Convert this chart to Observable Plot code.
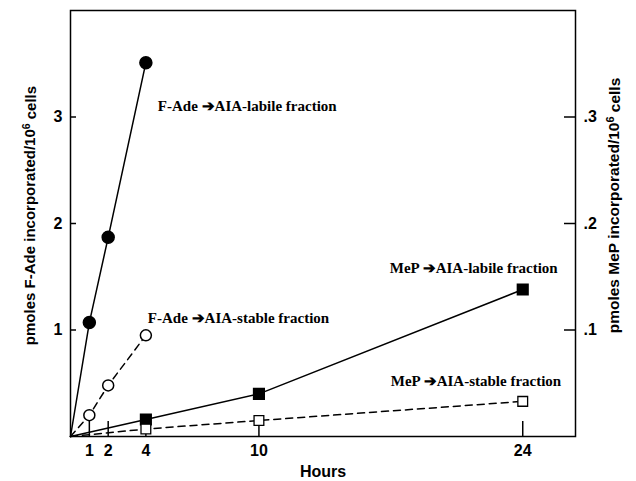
<!DOCTYPE html>
<html><head><meta charset="utf-8">
<script src="https://cdn.jsdelivr.net/npm/d3@7"></script>
<script src="https://cdn.jsdelivr.net/npm/@observablehq/plot@0.6"></script>
<style>body{margin:0;background:#fff}</style>
</head><body><div id="chart"></div>
<script>
// ---- data ----
const fadeHours = [0, 1, 2, 4];
const fadeLabile = [0, 1.07, 1.87, 3.51];
const fadeStable = [0, 0.20, 0.48, 0.95];
const mepHours = [0, 4, 10, 24];
const mepLabile = [0, 0.016, 0.040, 0.138];
const mepStable = [0, 0.007, 0.015, 0.033];
const xTicks = [1, 2, 4, 10, 24];
const leftTicks = [1, 2, 3];
const rightTicks = [0.1, 0.2, 0.3];
const rightTickLabels = [".1", ".2", ".3"];
const seriesLabels = ["F-Ade \u2794AIA-labile fraction", "F-Ade \u2794AIA-stable fraction",
  "MeP \u2794AIA-labile fraction", "MeP \u2794AIA-stable fraction"];
const xTitle = "Hours";
const yTitleLeft = "pmoles F-Ade incorporated/10\u2076 cells";
const yTitleRight = "pmoles MeP incorporated/10\u2076 cells";
const ratio = 10; // left axis units per right axis unit

const rows = (hs, vs, k) => hs.map((h, i) => ({h, v: vs[i] * k}));
const fl = rows(fadeHours, fadeLabile, 1);
const fs = rows(fadeHours, fadeStable, 1);
const ml = rows(mepHours, mepLabile, ratio);
const ms = rows(mepHours, mepStable, ratio);
const pts = a => a.filter(d => d.h > 0);
const last = a => [a[a.length - 1]];

const serif = "'Liberation Serif', 'Times New Roman', serif";
const annot = (a, text, dx, dy) => Plot.text(last(a), {x: "h", y: "v", text: () => text,
  textAnchor: "start", dx, dy, fontFamily: serif, fontWeight: "bold", fontSize: 15, fill: "black"});

const chart = Plot.plot({
  width: 636, height: 481,
  marginLeft: 70, marginRight: 61, marginTop: 10, marginBottom: 45,
  style: {fontFamily: "'Liberation Sans', Arial, sans-serif", fontWeight: "bold", fontSize: "16px", background: "white", color: "black"},
  x: {domain: [0, 26.8], label: null},
  y: {domain: [0, 4], label: null},
  marks: [
    Plot.frame({strokeWidth: 1.5}),
    Plot.axisX(xTicks, {tickSize: -15, text: null, strokeWidth: 1.5, label: null}),
    Plot.axisX(xTicks, {tickSize: 0, tickPadding: 8, label: null, fontSize: 16, tickFormat: d => String(d)}),
    Plot.axisY(leftTicks, {anchor: "left", tickSize: -6, text: null, strokeWidth: 1.5, label: null}),
    Plot.axisY(leftTicks, {anchor: "left", tickSize: 0, tickPadding: 8, label: null, fontSize: 16, tickFormat: d => String(d)}),
    Plot.axisY(rightTicks.map(v => v * ratio), {anchor: "right", tickSize: -12, text: null, strokeWidth: 1.5, label: null}),
    Plot.axisY(rightTicks.map(v => v * ratio), {anchor: "right", tickSize: 0, tickPadding: 8, label: null, fontSize: 16,
      tickFormat: d => rightTickLabels[rightTicks.findIndex(v => Math.abs(v * ratio - d) < 1e-9)]}),
    Plot.text([xTitle], {frameAnchor: "bottom", dy: 35, fontSize: 16, lineAnchor: "middle", textAnchor: "middle"}),
    Plot.text([yTitleLeft], {frameAnchor: "left", rotate: -90, dx: -40, dy: -8, fontSize: 15, lineAnchor: "middle", textAnchor: "middle"}),
    Plot.text([yTitleRight], {frameAnchor: "right", rotate: -90, dx: 39, dy: -18, fontSize: 15.5, lineAnchor: "middle", textAnchor: "middle"}),
    Plot.line(fl, {x: "h", y: "v", stroke: "black", strokeWidth: 1.5}),
    Plot.line(fs, {x: "h", y: "v", stroke: "black", strokeWidth: 1.5, strokeDasharray: "7,5"}),
    Plot.line(ml, {x: "h", y: "v", stroke: "black", strokeWidth: 1.5}),
    Plot.line(ms, {x: "h", y: "v", stroke: "black", strokeWidth: 1.5, strokeDasharray: "7,5"}),
    Plot.dot(pts(fl), {x: "h", y: "v", r: 6, fill: "black", stroke: "black"}),
    Plot.dot(pts(fs), {x: "h", y: "v", r: 5.5, fill: "white", stroke: "black", strokeWidth: 1.5}),
    Plot.dot(pts(ml), {x: "h", y: "v", r: 6, symbol: "square", fill: "black", stroke: "black"}),
    Plot.dot(pts(ms), {x: "h", y: "v", r: 5.5, symbol: "square", fill: "white", stroke: "black", strokeWidth: 1.3}),
    annot(fl, seriesLabels[0], 12, 44),
    annot(fs, seriesLabels[1], 2, -17),
    annot(ml, seriesLabels[2], -133, -21),
    annot(ms, seriesLabels[3], -132, -20)
  ]
});

// superscript the exponent in the axis titles
d3.select(chart).selectAll("text").each(function() {
  const t = this.textContent;
  if (t.includes("\u2076")) {
    const [a, b] = t.split("\u2076");
    const sel = d3.select(this);
    sel.text(null);
    sel.append("tspan").text(a);
    sel.append("tspan").attr("dy", "-0.55em").attr("font-size", "0.7em").text("6");
    sel.append("tspan").attr("dy", "0.4em").text("\u00a0" + b.trimStart());
  }
});

document.getElementById("chart").appendChild(chart);
</script>
</body></html>
